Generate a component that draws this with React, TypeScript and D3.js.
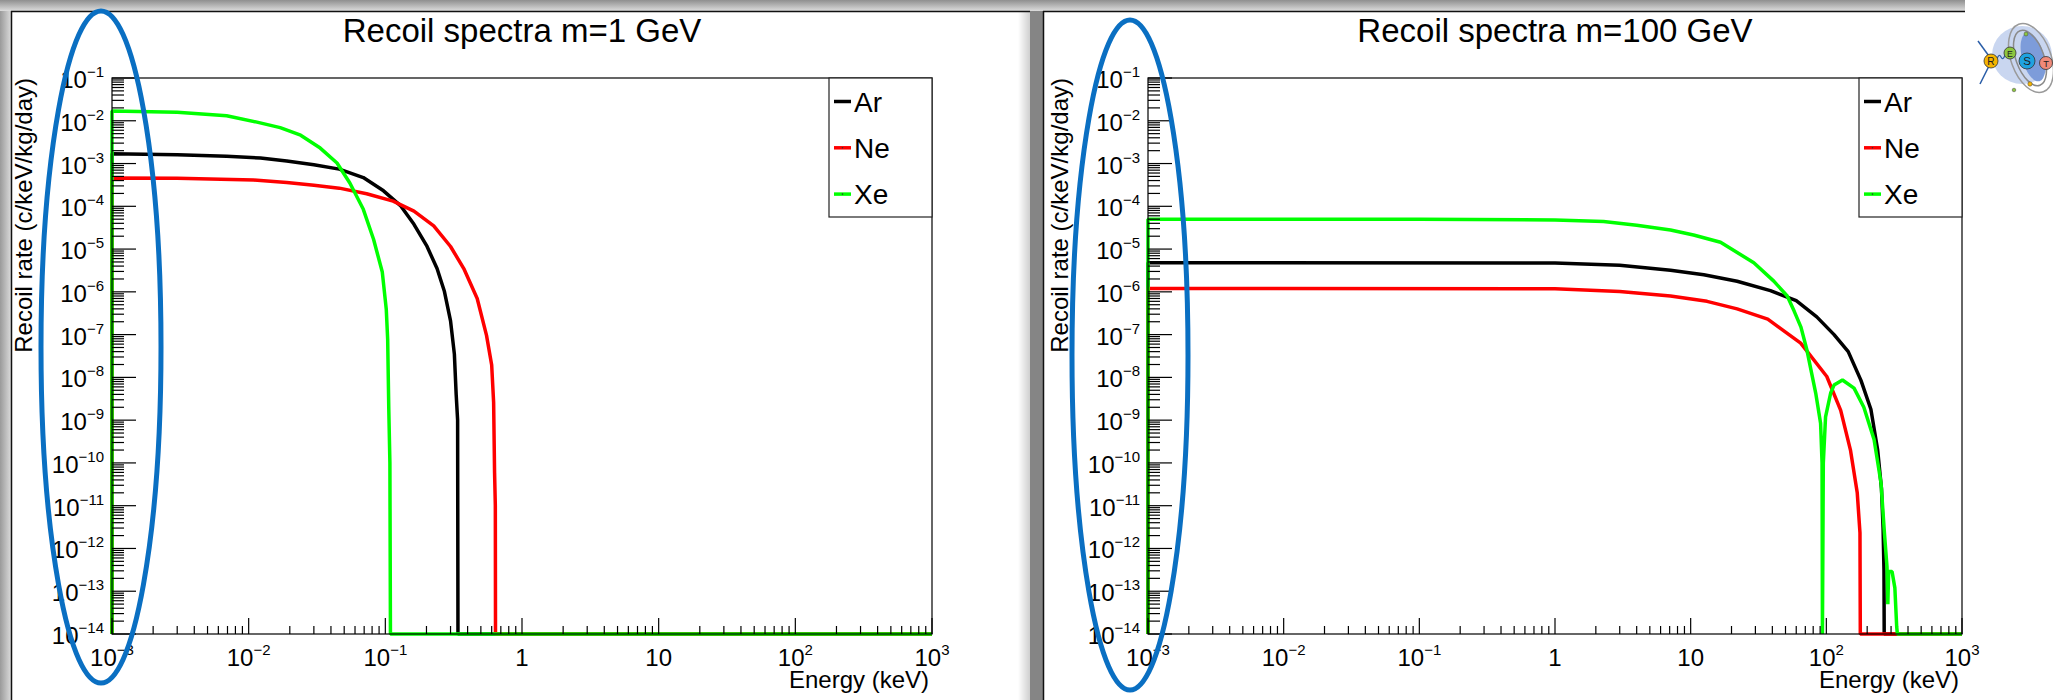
import * as d3 from 'd3'

const FONT = '"Liberation Sans", Arial, Helvetica, sans-serif'

// axis ranges (keV, c/keV/kg/day)
const X_DOMAIN = [1e-3, 1e3]
const Y_DOMAIN = [1e-14, 1e-1]

const NAMES = ['Ar', 'Ne', 'Xe']
const COLORS = ['#000000', '#ff0000', '#00ff00']

// m = 1 GeV
const E_M1_AR = [0.001, 0.003, 0.0069, 0.0122, 0.019, 0.03, 0.046, 0.069, 0.097, 0.129, 0.162, 0.202, 0.239, 0.27, 0.3, 0.32, 0.33, 0.338, 0.34]
const R_M1_AR = [1.7e-3, 1.6e-3, 1.48e-3, 1.34e-3, 1.15e-3, 9.4e-4, 7.4e-4, 4.7e-4, 2.3e-4, 1.04e-4, 3.8e-5, 1.15e-5, 3.5e-6, 1.05e-6, 2.1e-7, 3.5e-8, 3.9e-9, 1e-9, 0]
const E_M1_NE = [0.001, 0.003, 0.0109, 0.019, 0.03, 0.046, 0.073, 0.114, 0.162, 0.226, 0.3, 0.375, 0.47, 0.55, 0.6, 0.62, 0.63, 0.638, 0.64]
const R_M1_NE = [4.6e-4, 4.5e-4, 4.1e-4, 3.6e-4, 3.1e-4, 2.66e-4, 1.97e-4, 1.32e-4, 7.7e-5, 3.5e-5, 1.15e-5, 3.5e-6, 7e-7, 9.6e-8, 1.95e-8, 2.6e-9, 5.9e-11, 1e-11, 0]
const E_M1_XE = [0.001, 0.003, 0.0069, 0.0115, 0.017, 0.024, 0.0334, 0.0443, 0.055, 0.069, 0.082, 0.095, 0.1016, 0.104, 0.106, 0.108, 0.109]
const R_M1_XE = [1.7e-2, 1.58e-2, 1.31e-2, 9.3e-3, 6.9e-3, 4.6e-3, 2.3e-3, 1.03e-3, 3.5e-4, 8.5e-5, 1.7e-5, 2.9e-6, 3.9e-7, 7.9e-8, 1.8e-9, 1e-10, 0]

// m = 100 GeV
const E_M100_AR = [0.001, 1, 3, 7.1, 12.5, 22, 38.7, 60, 85, 114, 145, 180, 213, 239, 255, 262, 266, 267]
const R_M100_AR = [4.8e-6, 4.7e-6, 4.2e-6, 3.2e-6, 2.5e-6, 1.77e-6, 1.07e-6, 6.2e-7, 2.6e-7, 1.0e-7, 4.0e-8, 8.5e-9, 1.8e-9, 2.0e-10, 2.5e-11, 3e-12, 3e-13, 0]
const E_M100_NE = [0.001, 1, 3, 7.1, 13.2, 22, 37, 64.7, 100.8, 127.6, 150.6, 169, 177, 178]
const R_M100_NE = [1.2e-6, 1.18e-6, 1.02e-6, 8.0e-7, 6.0e-7, 4.0e-7, 2.3e-7, 6.3e-8, 1.05e-8, 1.7e-9, 2.0e-10, 2.0e-11, 2.3e-12, 0]
const E_M100_XE = [0.001, 0.1, 1, 2.28, 4, 7.1, 10.5, 16.6, 29.2, 41, 51.5, 58, 65, 72, 83.5, 90.7, 93, 93.6, 95, 98.7, 107.6, 114, 131.5, 160, 189, 225, 253, 268, 280, 284, 288, 305, 320, 330, 334]
const R_M100_XE = [5.0e-5, 4.95e-5, 4.8e-5, 4.4e-5, 3.6e-5, 2.8e-5, 2.14e-5, 1.44e-5, 4.8e-6, 1.78e-6, 8e-7, 3.5e-7, 1.5e-7, 4.3e-8, 4.3e-9, 8.5e-10, 1e-10, 0, 1e-10, 1.2e-9, 4.3e-9, 6.6e-9, 8.7e-9, 5.6e-9, 2.0e-9, 3.5e-10, 3.4e-11, 2.3e-12, 3.7e-13, 5e-14, 2.9e-13, 2.9e-13, 1.2e-13, 1.5e-14, 0]

const Y_TOP = 78
const Y_BOTTOM = 634

const isMajor = (t) => Math.abs(Math.log10(t) - Math.round(Math.log10(t))) < 1e-6

// "10^k" label the ROOT way: 1 and 10 written plainly
const PowLabel = ({ v, ...props }) => {
  const k = Math.round(Math.log10(v))
  if (k === 0) return <text {...props}>1</text>
  if (k === 1) return <text {...props}>10</text>
  return (
    <text {...props}>
      10<tspan dy={-11} fontSize={15}>{k < 0 ? '\u2212' + -k : String(k)}</tspan>
    </text>
  )
}

const Panel = ({ x0, x1, title, series }) => {
  const x = d3.scaleLog().domain(X_DOMAIN).range([x0, x1])
  const y = d3.scaleLog().domain(Y_DOMAIN).range([Y_BOTTOM, Y_TOP])
  const line = d3.line()
    .x((d) => x(d[0]))
    .y((d) => y(Math.max(d[1], Y_DOMAIN[0])))

  const xTicks = x.ticks()
  const yTicks = y.ticks(20)
  const lx = x1 - 103

  return (
    <g fontFamily={FONT}>
      <text x={(x0 + x1) / 2} y={42} fontSize={33} textAnchor="middle">{title}</text>

      {/* curves: histogram starts from the floor at the first bin */}
      {series.map((s) => {
        const pts = [[s.energy[0], 0], ...s.energy.map((e, i) => [e, s.rate[i]]), [X_DOMAIN[1], 0]]
        return <path key={s.name} d={line(pts)} fill="none" stroke={s.color} strokeWidth={3.5} strokeLinejoin="bevel" />
      })}

      {/* frame */}
      <rect x={x0} y={Y_TOP} width={x1 - x0} height={Y_BOTTOM - Y_TOP} fill="none" stroke="#000" strokeWidth={1.2} />

      {/* x axis ticks */}
      {xTicks.map((t, i) => (
        <line key={i} x1={x(t)} x2={x(t)} y1={Y_BOTTOM} y2={Y_BOTTOM - (isMajor(t) ? 16 : 8)} stroke="#000" strokeWidth={1.2} />
      ))}
      {xTicks.filter(isMajor).map((t, i) => (
        <PowLabel key={i} v={t} x={x(t)} y={666} fontSize={24} textAnchor="middle" />
      ))}
      <text x={x1 - 3} y={688} fontSize={24} textAnchor="end">Energy (keV)</text>

      {/* y axis ticks */}
      {yTicks.map((t, i) => (
        <line key={i} x1={x0} x2={x0 + (isMajor(t) ? 24 : 12)} y1={y(t)} y2={y(t)} stroke="#000" strokeWidth={1.2} />
      ))}
      {yTicks.filter(isMajor).map((t, i) => (
        <PowLabel key={i} v={t} x={x0 - 8} y={y(t) + 10} fontSize={24} textAnchor="end" />
      ))}
      <text transform={`translate(${x0 - 80},${Y_TOP}) rotate(-90)`} fontSize={24} textAnchor="end">
        Recoil rate (c/keV/kg/day)
      </text>

      {/* legend */}
      <rect x={lx} y={Y_TOP} width={103} height={139} fill="#fff" stroke="#222" strokeWidth={1.2} />
      {series.map((s, i) => {
        const cy = Y_TOP + 23.5 + i * 46.3
        return (
          <g key={s.name}>
            <line x1={lx + 5} x2={lx + 22} y1={cy} y2={cy} stroke={s.color} strokeWidth={3.5} />
            {i > 0 && <circle cx={lx + 13.5} cy={cy} r={0.8} fill="#333" />}
            <text x={lx + 25} y={cy + 10} fontSize={28}>{s.name}</text>
          </g>
        )
      })}
    </g>
  )
}

const Logo = () => (
  <g>
    <rect x={1965} y={0} width={88} height={110} fill="#fff" />
    <ellipse cx={2022} cy={55} rx={30} ry={29} fill="#c9d6f0" />
    <ellipse cx={2033} cy={57} rx={11} ry={25} fill="#7d9cda" transform="rotate(-15 2033 57)" />
    <ellipse cx={2030} cy={58} rx={14} ry={29} fill="none" stroke="#8a8a8a" strokeWidth={1.5} transform="rotate(-20 2030 58)" />
    <ellipse cx={2031} cy={58} rx={20} ry={36} fill="none" stroke="#9a9a9a" strokeWidth={1.5} transform="rotate(-20 2031 58)" />
    <line x1={1978} y1={41} x2={1994} y2={63} stroke="#2b5ea8" strokeWidth={1.5} />
    <line x1={1991} y1={62} x2={1980} y2={84} stroke="#2b5ea8" strokeWidth={1.5} />
    <path d="M1997,59 q2,-6 4,-2 q2,4 4,-2 q1,-3 3,-3" fill="none" stroke="#2b5ea8" strokeWidth={1.2} />
    <circle cx={2026} cy={34} r={2} fill="#8cc63e" stroke="#444" strokeWidth={0.5} />
    <circle cx={2030} cy={84} r={2.2} fill="#f5b400" stroke="#444" strokeWidth={0.5} />
    <circle cx={2014} cy={90} r={1.8} fill="#8cc63e" stroke="#444" strokeWidth={0.5} />
    {[
      ['R', 1991, 61, 7, '#f5b400'],
      ['E', 2010, 53, 6, '#8cc63e'],
      ['S', 2027, 61, 8, '#1fa3e0'],
      ['T', 2046, 63, 6.5, '#f08a7a'],
    ].map(([l, cx, cy, r, c]) => (
      <g key={l}>
        <circle cx={cx} cy={cy} r={r} fill={c} stroke="#333" strokeWidth={0.8} />
        <text x={cx} y={cy + 3.5} fontSize={r * 1.45} textAnchor="middle" fontFamily={FONT} fill="#222">{l}</text>
      </g>
    ))}
  </g>
)

const mk = (energies, rates) => NAMES.map((name, i) => ({ name, color: COLORS[i], energy: energies[i], rate: rates[i] }))

export default function App() {
  const left = mk([E_M1_AR, E_M1_NE, E_M1_XE], [R_M1_AR, R_M1_NE, R_M1_XE])
  const right = mk([E_M100_AR, E_M100_NE, E_M100_XE], [R_M100_AR, R_M100_NE, R_M100_XE])

  return (
    <svg width={2053} height={700} style={{ position: 'absolute', left: 0, top: 0, display: 'block' }}>
      <defs>
        <linearGradient id="topGrad" x1="0" y1="0" x2="0" y2="1">
          <stop offset="0" stopColor="#8f8f8f" />
          <stop offset="1" stopColor="#dcdcdc" />
        </linearGradient>
        <linearGradient id="leftGrad" x1="0" y1="0" x2="1" y2="0">
          <stop offset="0" stopColor="#9a9a9a" />
          <stop offset="1" stopColor="#dadada" />
        </linearGradient>
        <linearGradient id="shadeGrad" x1="0" y1="0" x2="1" y2="0">
          <stop offset="0" stopColor="#ffffff" />
          <stop offset="1" stopColor="#cfcfcf" />
        </linearGradient>
      </defs>

      <rect width={2053} height={700} fill="#a9a9a9" />
      <rect x={0} y={0} width={2053} height={11} fill="url(#topGrad)" />
      <rect x={0} y={11} width={11} height={689} fill="url(#leftGrad)" />
      <rect x={11} y={11} width={1019} height={689} fill="#fff" />
      <rect x={1018} y={11} width={12} height={689} fill="url(#shadeGrad)" />
      <rect x={1030} y={11} width={13} height={689} fill="#858585" />
      <rect x={1043} y={11} width={1010} height={689} fill="#fff" />
      <line x1={11} x2={1030} y1={11.5} y2={11.5} stroke="#111" strokeWidth={1.5} />
      <line x1={11.5} x2={11.5} y1={11} y2={700} stroke="#111" strokeWidth={1.5} />
      <line x1={1043} x2={1965} y1={11.5} y2={11.5} stroke="#111" strokeWidth={1.5} />
      <line x1={1043.5} x2={1043.5} y1={11} y2={700} stroke="#111" strokeWidth={1.5} />

      <Panel x0={112} x1={932} title="Recoil spectra m=1 GeV" series={left} />
      <Panel x0={1148} x1={1962} title="Recoil spectra m=100 GeV" series={right} />
      <Logo />

      {/* blue highlight ellipses over the y axes */}
      <ellipse cx={101} cy={347} rx={60} ry={336} fill="none" stroke="#0a6fc2" strokeWidth={5} />
      <ellipse cx={1130} cy={355} rx={58} ry={335} fill="none" stroke="#0a6fc2" strokeWidth={5} />
    </svg>
  )
}
